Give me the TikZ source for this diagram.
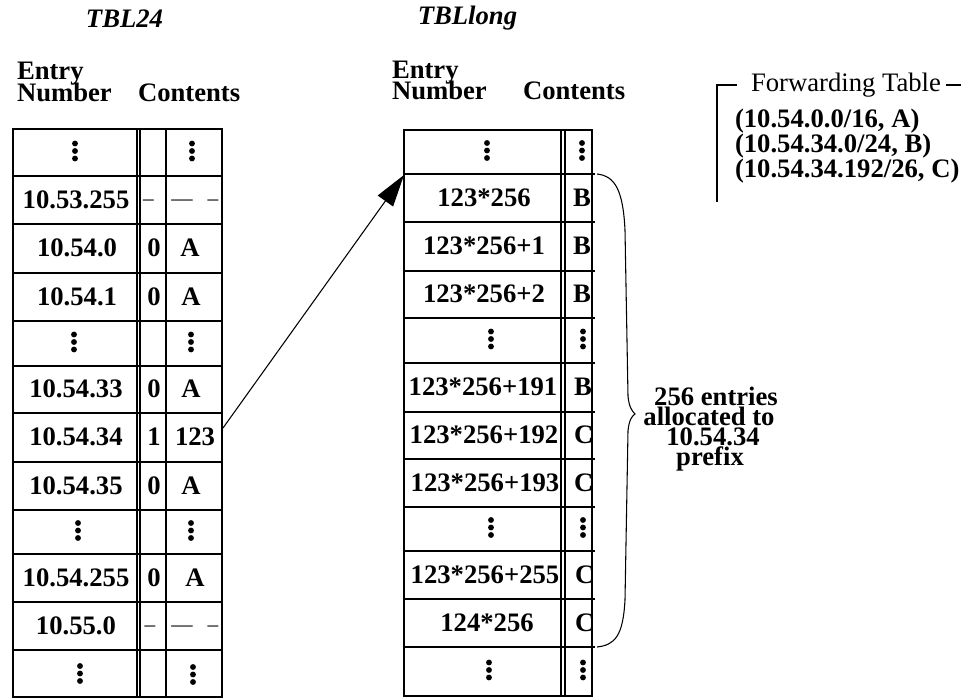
\documentclass[tikz,border=0pt]{standalone}
\usepackage{fontspec}
\setmainfont{Liberation Serif}
\usetikzlibrary{arrows.meta}
\newcommand\tdots[3]{\fill (#1,#2-9) circle[radius=2.2pt] (#1,#2-1.5) circle[radius=2.2pt] (#1,#2+6) circle[radius=2.2pt];}
\begin{document}
\begin{tikzpicture}[x=0.75pt,y=-0.75pt,
  every node/.style={inner sep=0pt,outer sep=0pt},
  cell/.style={font=\fontsize{20}{24}\selectfont\bfseries,anchor=base},
  cellw/.style={font=\fontsize{20}{24}\selectfont\bfseries,anchor=base west},
  hdr/.style={font=\fontsize{20}{24}\selectfont\bfseries,anchor=base west},
  ttl/.style={font=\fontsize{20}{24}\selectfont\bfseries\itshape,anchor=base},
  dsh/.style={font=\fontsize{16}{20}\selectfont,anchor=base},
  grid/.style={line width=0.8pt},
  lab/.style={font=\fontsize{20}{24}\selectfont\bfseries,anchor=base}]
\useasboundingbox (0,0) rectangle (965,698);

% titles and headers
\node[ttl] (t24) at (124.5,28) {TBL24};
\node[ttl] (tlong) at (467.5,25) {TBLlong};
\node[hdr] (le1) at (17,80) {Entry};
\node[hdr] (ln1) at (17,102) {Number};
\node[hdr] (lc1) at (138,102) {Contents};
\node[hdr] (re1) at (392,79) {Entry};
\node[hdr] (rn1) at (392,100) {Number};
\node[hdr] (rc1) at (523,100) {Contents};

% left table grid
\draw[grid] (13,129) rectangle (222,697);
\draw[grid] (137,129) -- (137,697) (140,129) -- (140,697) (166,129) -- (166,697);
\foreach \y in {176,224,273,321,366,413,462,510,554,602,650}
  \draw[grid] (13,\y) -- (222,\y);

% left table contents
\tdots{75}{152.5}{}
\tdots{192}{152.5}{}
\node[cell] (a2) at (76,208.5) {10.53.255};
\node[dsh] (a2b) at (148.5,205.5) {–};
\node[dsh] (a2c) at (182,205.5) {—};
\node[dsh] (a2d) at (213,205.5) {–};
\node[cell] (a3) at (77,257) {10.54.0};
\node[cell] (a3b) at (154,257) {0};
\node[cell] (a3c) at (190,257) {A};
\node[cell] (a4) at (77,305.5) {10.54.1};
\node[cell] (a4b) at (154,305.5) {0};
\node[cell] (a4c) at (191,305.5) {A};
\tdots{74}{343.5}{}
\tdots{191}{343.5}{}
\node[cell] (a6) at (76,398) {10.54.33};
\node[cell] (a6b) at (154,398) {0};
\node[cell] (a6c) at (191,398) {A};
\node[cell] (a7) at (76,446) {10.54.34};
\node[cell] (a7b) at (154,446) {1};
\node[cell] (a7c) at (195,446) {123};
\node[cell] (a8) at (76,494.5) {10.54.35};
\node[cell] (a8b) at (154,494.5) {0};
\node[cell] (a8c) at (191,494.5) {A};
\tdots{78}{532}{}
\tdots{191}{532}{}
\node[cell] (a10) at (76,586.5) {10.54.255};
\node[cell] (a10b) at (154,586.5) {0};
\node[cell] (a10c) at (195,586.5) {A};
\node[cell] (a11) at (76,634.5) {10.55.0};
\node[dsh] (a11b) at (150,631.5) {–};
\node[dsh] (a11c) at (182,631.5) {—};
\node[dsh] (a11d) at (213,631.5) {–};
\tdots{80}{675}{}
\tdots{193}{676}{}

% right table grid
\draw[grid] (404,130) rectangle (592,696);
\draw[grid] (561,130) -- (561,696) (565,130) -- (565,696);
\foreach \y in {174,222,271,318,363,412,459,507,551,599,647}
  \draw[grid] (404,\y) -- (595,\y);

% right table contents
\tdots{487}{152}{}
\tdots{582}{152}{}
\node[cell] (b2) at (484,206.5) {123*256};
\node[cellw] (b2b) at (573,206.5) {B};
\node[cell] (b3) at (484,255) {123*256+1};
\node[cellw] (b3b) at (573,255) {B};
\node[cell] (b4) at (484,303) {123*256+2};
\node[cellw] (b4b) at (573,303) {B};
\tdots{491}{340.5}{}
\tdots{583}{340.5}{}
\node[cell] (b6) at (483,396) {123*256+191};
\node[cellw] (b6b) at (574,396) {B};
\node[cell] (b7) at (484,444) {123*256+192};
\node[cellw] (b7b) at (574,444) {C};
\node[cell] (b8) at (485,491.5) {123*256+193};
\node[cellw] (b8b) at (574,491.5) {C};
\tdots{491}{529}{}
\tdots{583}{529}{}
\node[cell] (b10) at (485,583.5) {123*256+255};
\node[cellw] (b10b) at (575,583.5) {C};
\node[cell] (b11) at (487,631.5) {124*256};
\node[cellw] (b11b) at (575,631.5) {C};
\tdots{489}{671.5}{}
\tdots{583}{671.5}{}

% arrow
\coordinate (arS) at (223,428);
\coordinate (arE) at (404,175);
\draw[line width=0.8pt,-{Triangle[length=24pt,width=14pt]}] (arS) -- (arE);

% brace
\draw[line width=0.8pt] (597,174) .. controls (615,176) and (623,190) .. (625,230)
  -- (628,396) .. controls (629,407) and (632,411) .. (635,414)
  .. controls (632,416) and (629,420) .. (628,431)
  -- (625,600) .. controls (623,636) and (615,645) .. (597,647);
\node[lab] (l1) at (716,406) {256 entries};
\node[lab] (l2) at (709,426) {allocated to};
\node[lab] (l3) at (713,446) {10.54.34};
\node[lab] (l4) at (710,466) {prefix};

% forwarding table
\draw[grid] (717,202) -- (717,85) -- (737,85);
\draw[grid] (946,85) -- (961,85);
\node[font=\fontsize{20}{24}\selectfont,anchor=base west] (ft) at (751,92) {Forwarding Table};
\node[hdr] (f1) at (735,128) {(10.54.0.0/16, A)};
\node[hdr] (f2) at (735,153) {(10.54.34.0/24, B)};
\node[hdr] (f3) at (735,178) {(10.54.34.192/26, C)};
\end{tikzpicture}
\end{document}
